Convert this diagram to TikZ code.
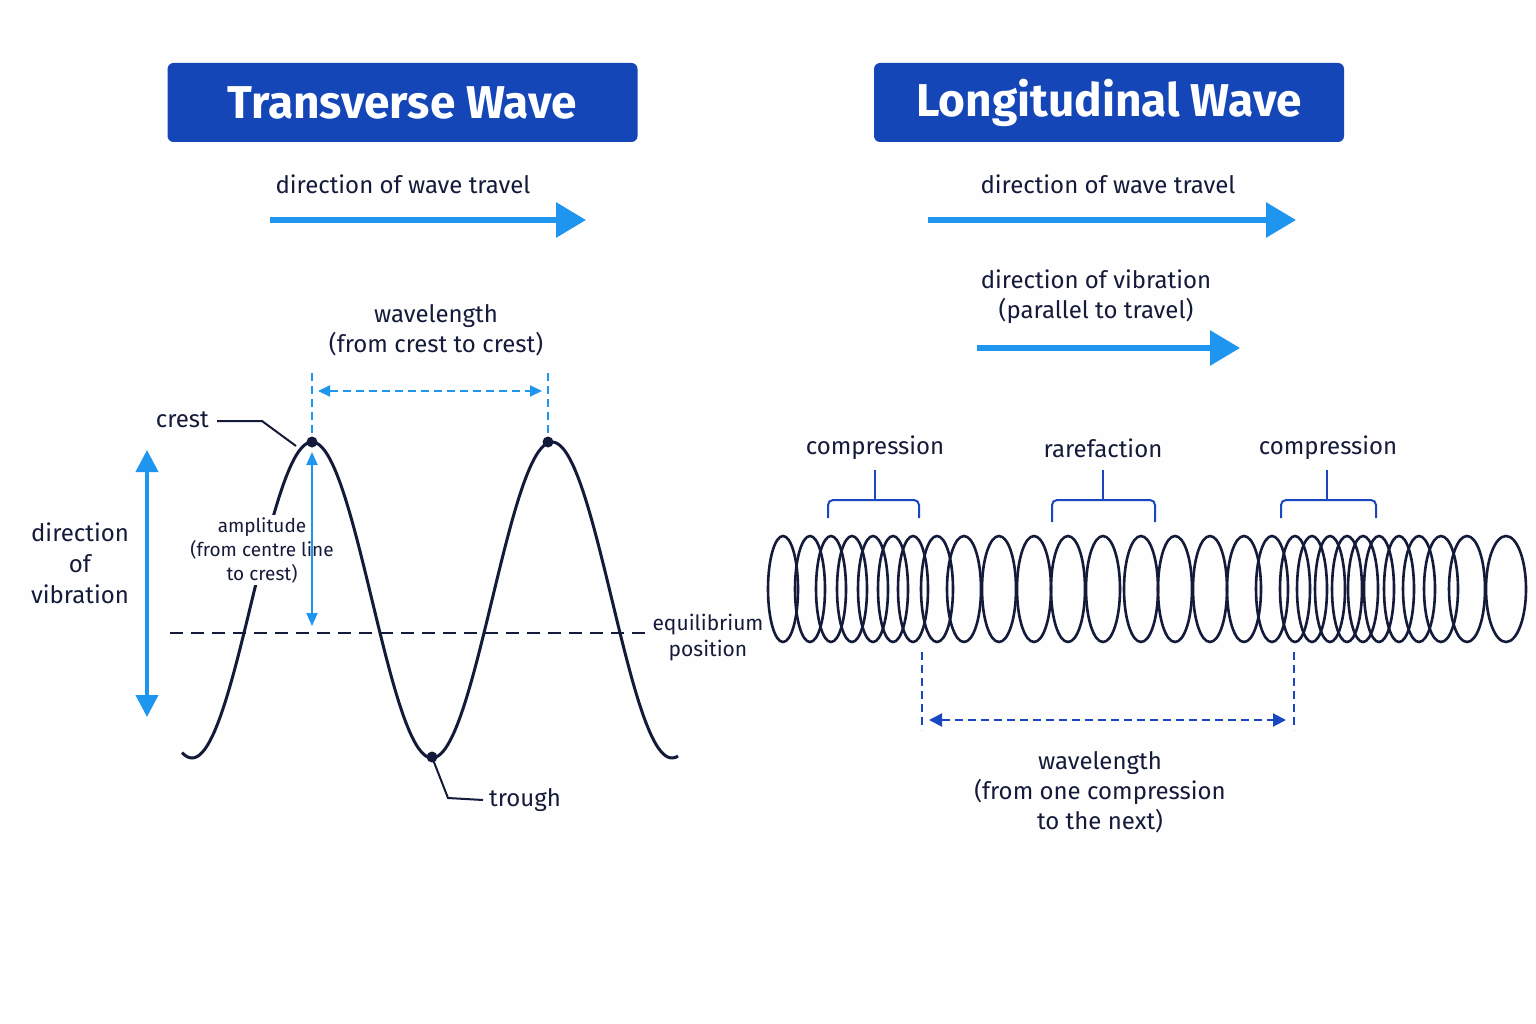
\documentclass[tikz,border=0pt]{standalone}
\usepackage{fontspec}
\setmainfont{Fira Sans}
\usetikzlibrary{arrows.meta}
\definecolor{titleblue}{HTML}{1446B8}
\definecolor{lblue}{HTML}{1E96F0}
\definecolor{dblue}{HTML}{1A47C0}
\definecolor{ink}{HTML}{141B3A}
\begin{document}
\begin{tikzpicture}[x=1pt,y=-1pt,
  title/.style={fill=titleblue,rounded corners=6pt,text=white,font=\fontsize{46}{48}\selectfont\bfseries,minimum width=470pt,minimum height=79pt,inner sep=0pt},
  lab/.style={text=ink,font=\fontsize{24}{30}\selectfont,align=center,inner sep=0pt},
  slab/.style={text=ink,font=\fontsize{19}{24}\selectfont,align=center,inner sep=0pt},
  bigarrow/.style={lblue,line width=6pt,-{Triangle[length=30pt,width=34pt]}},
  dim/.style={dashed,dash pattern=on 8pt off 5pt,line width=2pt},
  coil/.style={ink,line width=2.6pt}]
\fill[white!99!gray] (0,0) rectangle (1536,1024);
\node[title] (t1) at (402.5,102.5) {Transverse Wave};
\node[title] (t2) at (1109,102.5) {Longitudinal Wave};
% left
\node[lab] (dwt1) at (403,184) {direction of wave travel};
\coordinate (a1s) at (270,220); \coordinate (a1e) at (586,220);
\draw[bigarrow] (a1s) -- (a1e);
\node[lab] (wl1) at (436,330) {wavelength\\(from crest to crest)};
\coordinate (c1) at (312,442); \coordinate (c2) at (548,442); \coordinate (tr) at (432,757);
\coordinate (v1t) at (312,373); \coordinate (v2t) at (548,373);
\draw[lblue,dim] (v1t) -- (c1); \draw[lblue,dim] (v2t) -- (c2);
\coordinate (w1a) at (318,391); \coordinate (w1b) at (542,391);
\draw[lblue,dim,{Triangle[length=12pt,width=11pt]}-{Triangle[length=12pt,width=11pt]}] (w1a) -- (w1b);
\coordinate (eq1) at (170,633); \coordinate (eq2) at (648,633);
\draw[ink,line width=2.2pt,dash pattern=on 13pt off 8pt] (eq1) -- (eq2);
\draw[coil,line width=3pt,smooth] plot[domain=182:678,samples=200] ({\x},{600-158*cos(1.5*(\x-312))});
\fill[ink] (c1) circle (5.5); \fill[ink] (c2) circle (5.5); \fill[ink] (tr) circle (5.5);
\node[lab,anchor=east] (crest) at (209,420) {crest};
\draw[ink,line width=2pt] (crest.east)++(8,1) -- (262,421) -- (296,446);
\node[lab,anchor=west] (trough) at (489,800) {trough};
\draw[ink,line width=2pt] (tr) -- (448,798) -- ([xshift=-6pt]trough.west);
\node[slab,fill=white!99!gray,inner sep=2pt] (amp) at (262,550) {amplitude\\(from centre line\\to crest)};
\coordinate (am1) at (312,452); \coordinate (am2) at (312,626);
\draw[lblue,line width=2pt,{Triangle[length=13pt,width=11pt]}-{Triangle[length=13pt,width=11pt]}] (am1) -- (am2);
\coordinate (dv1) at (147,450); \coordinate (dv2) at (147,717);
\draw[lblue,line width=4pt,{Triangle[length=22pt,width=22pt]}-{Triangle[length=22pt,width=22pt]}] (dv1) -- (dv2);
\node[lab,font=\fontsize{24}{31}\selectfont] (dov) at (80,563) {direction\\of\\vibration};
\node[slab,font=\fontsize{21}{26}\selectfont] (eqp) at (708,638) {equilibrium\\position};
% right
\node[lab] (dwt2) at (1108,184) {direction of wave travel};
\coordinate (a2s) at (928,220); \coordinate (a2e) at (1296,220);
\draw[bigarrow] (a2s) -- (a2e);
\node[lab] (dov2) at (1096,297) {direction of vibration\\(parallel to travel)};
\coordinate (a3s) at (977,348); \coordinate (a3e) at (1240,348);
\draw[bigarrow] (a3s) -- (a3e);
\foreach \cx/\rx in {783/15,810/15,831/15,852/15,873/15,893/15,913/15,937/16,964/17,999/17,1034/17,1068/17,1103/17,1141/17,1175/17,1210/17,1244/17,1272/16,1295/15,1312/15,1330/15,1347/15,1363/15,1379/15,1399/15,1419/16,1441/17,1467/18,1506/20}
  \draw[coil] (\cx,589) ellipse ({\rx} and 53);
\node[lab] (cp1) at (875,448) {compression};
\node[lab] (rf) at (1103,448) {rarefaction};
\node[lab] (cp2) at (1328,448) {compression};
\draw[dblue,line width=2pt] (875,470) -- (875,500);
\draw[dblue,line width=2pt,rounded corners=5pt] (828,518) -- (828,500) -- (919,500) -- (919,518);
\draw[dblue,line width=2pt] (1103,470) -- (1103,500);
\draw[dblue,line width=2pt,rounded corners=5pt] (1052,522) -- (1052,500) -- (1155,500) -- (1155,522);
\draw[dblue,line width=2pt] (1327,470) -- (1327,500);
\draw[dblue,line width=2pt,rounded corners=5pt] (1281,518) -- (1281,500) -- (1376,500) -- (1376,518);
\coordinate (lv1a) at (922,652); \coordinate (lv1b) at (922,730);
\coordinate (lv2a) at (1294,652); \coordinate (lv2b) at (1294,730);
\draw[dblue,dim] (lv1a) -- (lv1b); \draw[dblue,dim] (lv2a) -- (lv2b);
\coordinate (w2a) at (929,720); \coordinate (w2b) at (1286,720);
\draw[dblue,dim,{Triangle[length=13pt,width=13pt]}-{Triangle[length=13pt,width=13pt]}] (w2a) -- (w2b);
\node[lab] (wl2) at (1100,792) {wavelength\\(from one compression\\to the next)};
\end{tikzpicture}
\end{document}
